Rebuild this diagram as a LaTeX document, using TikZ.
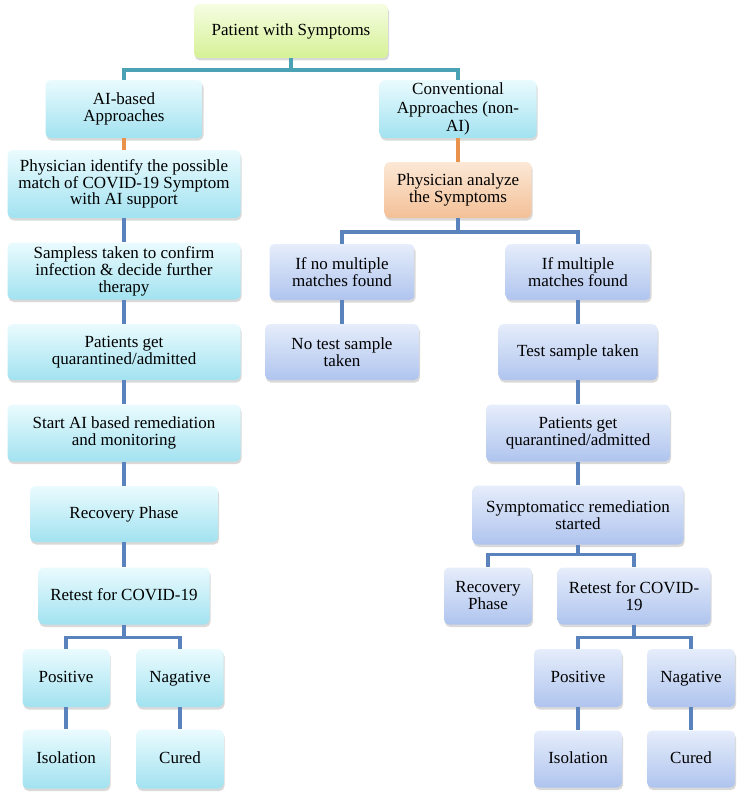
\documentclass[tikz,border=0pt]{standalone}
\usepackage{fontspec}
\setmainfont{Liberation Serif}
\usetikzlibrary{shadows}
\definecolor{roottop}{HTML}{F5FDE2}
\definecolor{rootbot}{HTML}{D6F196}
\definecolor{aitop}{HTML}{EAFBFE}
\definecolor{aibot}{HTML}{A2E2F0}
\definecolor{convtop}{HTML}{E6EDFB}
\definecolor{convbot}{HTML}{AFC4EE}
\definecolor{ortop}{HTML}{FCE8D6}
\definecolor{orbot}{HTML}{F3C097}
\definecolor{tealc}{HTML}{4BA2B4}
\definecolor{orangec}{HTML}{E8924C}
\definecolor{bluec}{HTML}{5A83BD}
\tikzstyle{base} = [rectangle, rounded corners=5pt, align=center, inner sep=2pt, font=\fontsize{17}{17}\selectfont, drop shadow={opacity=0.3, shadow xshift=1pt, shadow yshift=-2.5pt}]
\tikzstyle{rootbox} = [base, top color=roottop, bottom color=rootbot]
\tikzstyle{aibox} = [base, top color=aitop, bottom color=aibot]
\tikzstyle{convbox} = [base, top color=convtop, bottom color=convbot]
\tikzstyle{orangebox} = [base, top color=ortop, bottom color=orbot]
\tikzstyle{oneline} = [text height=12pt, text depth=4pt]
\tikzstyle{tealline} = [line width=3.5pt, draw=tealc]
\tikzstyle{orangeline} = [line width=3.5pt, draw=orangec]
\tikzstyle{blueline} = [line width=3.5pt, draw=bluec]

\begin{document}
\begin{tikzpicture}[node distance=81pt]
\useasboundingbox (0,0) rectangle (739pt,-797pt);

% Nodes
\node (root) [rootbox, minimum width=194pt, minimum height=54pt] at (291pt,-31pt) {Patient with Symptoms};
\node (ai) [aibox, minimum width=157pt, minimum height=58pt, below of=root, xshift=-167pt, yshift=3pt] {AI-based\\Approaches};
\node (physid) [aibox, minimum width=233pt, minimum height=68pt, below of=ai, yshift=6pt, font=\fontsize{17}{15}\selectfont] {Physician identify the possible\\match of COVID-19 Symptom\\with AI support};
\node (samp) [aibox, minimum width=233pt, minimum height=57pt, below of=physid, yshift=-6pt] {Sampless taken to confirm\\infection \& decide further\\therapy};
\node (quarL) [aibox, minimum width=233pt, minimum height=56pt, below of=samp] {Patients get\\quarantined/admitted};
\node (startai) [aibox, minimum width=233pt, minimum height=57pt, below of=quarL] {Start AI based remediation\\and monitoring};
\node (recL) [aibox, oneline, minimum width=188pt, minimum height=56pt, below of=startai] {Recovery Phase};
\node (retL) [aibox, oneline, minimum width=171pt, minimum height=57pt, below of=recL, yshift=-1pt] {Retest for COVID-19};
\node (posL) [aibox, oneline, minimum width=87pt, minimum height=58pt, below of=retL, xshift=-58pt, yshift=-1pt] {Positive};
\node (negL) [aibox, oneline, minimum width=87pt, minimum height=58pt, below of=retL, xshift=56pt, yshift=-1pt] {Nagative};
\node (isoL) [aibox, oneline, minimum width=87pt, minimum height=59pt, below of=posL] {Isolation};
\node (curedL) [aibox, oneline, minimum width=87pt, minimum height=59pt, below of=negL] {Cured};

\node (conv) [aibox, minimum width=157pt, minimum height=58pt, below of=root, xshift=167pt, yshift=3pt, font=\fontsize{17}{18.5}\selectfont] {Conventional\\Approaches (non-\\AI)};
\node (physan) [orangebox, minimum width=147pt, minimum height=56pt, below of=conv] {Physician analyze\\the Symptoms};
\node (nomult) [convbox, minimum width=145pt, minimum height=56pt, below of=physan, xshift=-116pt, yshift=-1pt] {If no multiple\\matches found};
\node (mult) [convbox, minimum width=145pt, minimum height=56pt, below of=physan, xshift=120pt, yshift=-1pt] {If multiple\\matches found};
\node (notest) [convbox, minimum width=154pt, minimum height=56pt, below of=nomult, yshift=1pt] {No test sample\\taken};
\node (testtaken) [convbox, oneline, minimum width=159pt, minimum height=56pt, below of=mult, yshift=1pt] {Test sample taken};
\node (quarR) [convbox, minimum width=184pt, minimum height=57pt, below of=testtaken] {Patients get\\quarantined/admitted};
\node (symp) [convbox, minimum width=211pt, minimum height=59pt, below of=quarR, yshift=-1pt] {Symptomaticc remediation\\started};
\node (recR) [convbox, minimum width=88pt, minimum height=57pt, below of=symp, xshift=-90pt] {Recovery\\Phase};
\node (retR) [convbox, minimum width=153pt, minimum height=57pt, below of=symp, xshift=56pt] {Retest for COVID-\\19};
\node (posR) [convbox, oneline, minimum width=88pt, minimum height=58pt, below of=retR, xshift=-56pt, yshift=-1pt] {Positive};
\node (negR) [convbox, oneline, minimum width=88pt, minimum height=58pt, below of=retR, xshift=57pt, yshift=-1pt] {Nagative};
\node (isoR) [convbox, oneline, minimum width=88pt, minimum height=57pt, below of=posR] {Isolation};
\node (curedR) [convbox, oneline, minimum width=88pt, minimum height=57pt, below of=negR] {Cured};

% Lines
\draw [tealline] (root.south) -- ++(0,-12pt) -| (ai.north);
\draw [tealline] (root.south) -- ++(0,-12pt) -| (conv.north);
\draw [orangeline] (ai) -- (physid);
\draw [orangeline] (conv) -- (physan);
\draw [blueline] (physid) -- (samp);
\draw [blueline] (samp) -- (quarL);
\draw [blueline] (quarL) -- (startai);
\draw [blueline] (startai) -- (recL);
\draw [blueline] (recL) -- (retL);
\draw [blueline] (retL.south) -- ++(0,-13pt) -| (posL.north);
\draw [blueline] (retL.south) -- ++(0,-13pt) -| (negL.north);
\draw [blueline] (posL) -- (isoL);
\draw [blueline] (negL) -- (curedL);
\draw [blueline] (physan.south) -- ++(0,-14pt) -| (nomult.north);
\draw [blueline] (physan.south) -- ++(0,-14pt) -| (mult.north);
\draw [blueline] (nomult) -- (notest);
\draw [blueline] (mult) -- (testtaken);
\draw [blueline] (testtaken) -- (quarR);
\draw [blueline] (quarR) -- (symp);
\draw [blueline] (symp.south) -- ++(0,-10pt) -| (recR.north);
\draw [blueline] (symp.south) -- ++(0,-10pt) -| (retR.north);
\draw [blueline] (retR.south) -- ++(0,-13pt) -| (posR.north);
\draw [blueline] (retR.south) -- ++(0,-13pt) -| (negR.north);
\draw [blueline] (posR) -- (isoR);
\draw [blueline] (negR) -- (curedR);

\end{tikzpicture}
\end{document}
